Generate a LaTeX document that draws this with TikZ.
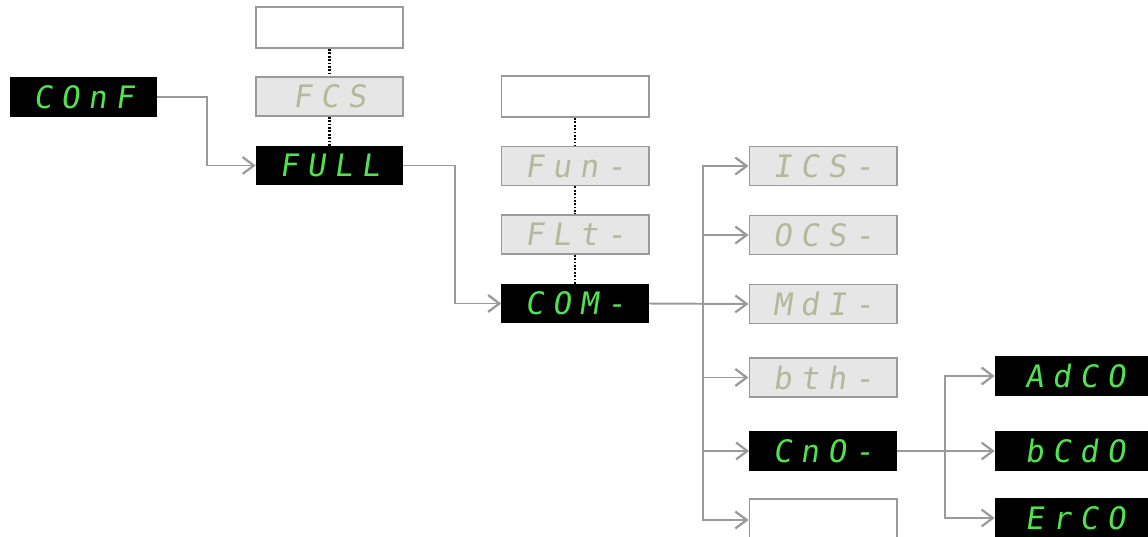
\documentclass[tikz,border=0pt]{standalone}
\usepackage{fontspec}
\newfontfamily\segfont[FakeSlant=0.15,LetterSpace=28]{DejaVu Sans Mono}
\usetikzlibrary{arrows.meta}
\definecolor{segon}{HTML}{4FE34F}
\definecolor{segoff}{HTML}{B4B89C}
\definecolor{boxgray}{HTML}{E6E6E6}
\definecolor{linegray}{HTML}{9A9A9A}

\tikzstyle{display} = [rectangle, minimum width=3.675cm, minimum height=0.975cm,
    inner sep=0pt, font=\segfont\fontsize{22}{24}\selectfont]
\tikzstyle{lit} = [display, fill=black, text=segon]
\tikzstyle{dim} = [display, draw=linegray, line width=1.4pt, fill=boxgray, text=segoff]
\tikzstyle{blankbox} = [display, draw=linegray, line width=1.4pt, fill=white, minimum height=1.03cm]
\tikzstyle{link} = [draw=linegray, line width=1.4pt, -{Straight Barb[length=8pt,width=12pt,line width=1.6pt]}]
\tikzstyle{dots} = [draw=black, line width=1.8pt, dash pattern=on 1.2pt off 1.2pt]

\begin{document}
\begin{tikzpicture}[x=0.025cm, y=-0.025cm]
    \useasboundingbox (0,0) rectangle (1148,537);
    % main entry
    \node [lit] (conf) at (83.5,97) {COnF};
    % first level
    \node [blankbox] (top1) at (329.5,27.5) {};
    \node [dim] (fcs) at (329.5,96.5) {FCS};
    \node [lit] (full) at (329.5,165.5) {FULL};
    % second level
    \node [blankbox] (top2) at (575,96.5) {};
    \node [dim] (fun) at (575,166) {Fun-};
    \node [dim] (flt) at (575,234.5) {FLt-};
    \node [lit] (com) at (575,303.5) {COM-};
    % third level
    \node [dim] (ics) at (823,166) {ICS-};
    \node [dim] (ocs) at (823,235) {OCS-};
    \node [dim] (mdi) at (823,304) {MdI-};
    \node [dim] (bth) at (823,377.5) {bth-};
    \node [lit] (cno) at (823,451) {CnO-};
    \node [blankbox] (bot3) at (823,520) {};
    % fourth level
    \node [lit, minimum width=4cm] (adco) at (1075,376) {AdCO\hspace{1.3cm}};
    \node [lit, minimum width=4cm] (bcdo) at (1075,451) {bCdO\hspace{1.3cm}};
    \node [lit, minimum width=4cm] (erco) at (1075,518) {ErCO\hspace{1.3cm}};

    % dotted columns
    \draw [dots] (top1) -- (fcs);
    \draw [dots] (fcs) -- (full);
    \draw [dots] (top2) -- (fun);
    \draw [dots] (fun) -- (flt);
    \draw [dots] (flt) -- (com);

    % connectors
    \draw [link] (conf.east) -- ++(50,0) |- (full.west);
    \draw [link] (full.east) -- ++(52,0) |- (com.west);
    \draw [link] (com.east) -- (mdi.west);
    \coordinate (split1) at ([xshift=54*0.025cm]com.east);
    \foreach \n in {ics,ocs,bth,cno,bot3}
        \draw [link] (split1) |- (\n.west);
    \draw [link] (cno.east) -- (bcdo.west);
    \coordinate (split2) at ([xshift=48*0.025cm]cno.east);
    \foreach \n in {adco,erco}
        \draw [link] (split2) |- (\n.west);
\end{tikzpicture}
\end{document}
